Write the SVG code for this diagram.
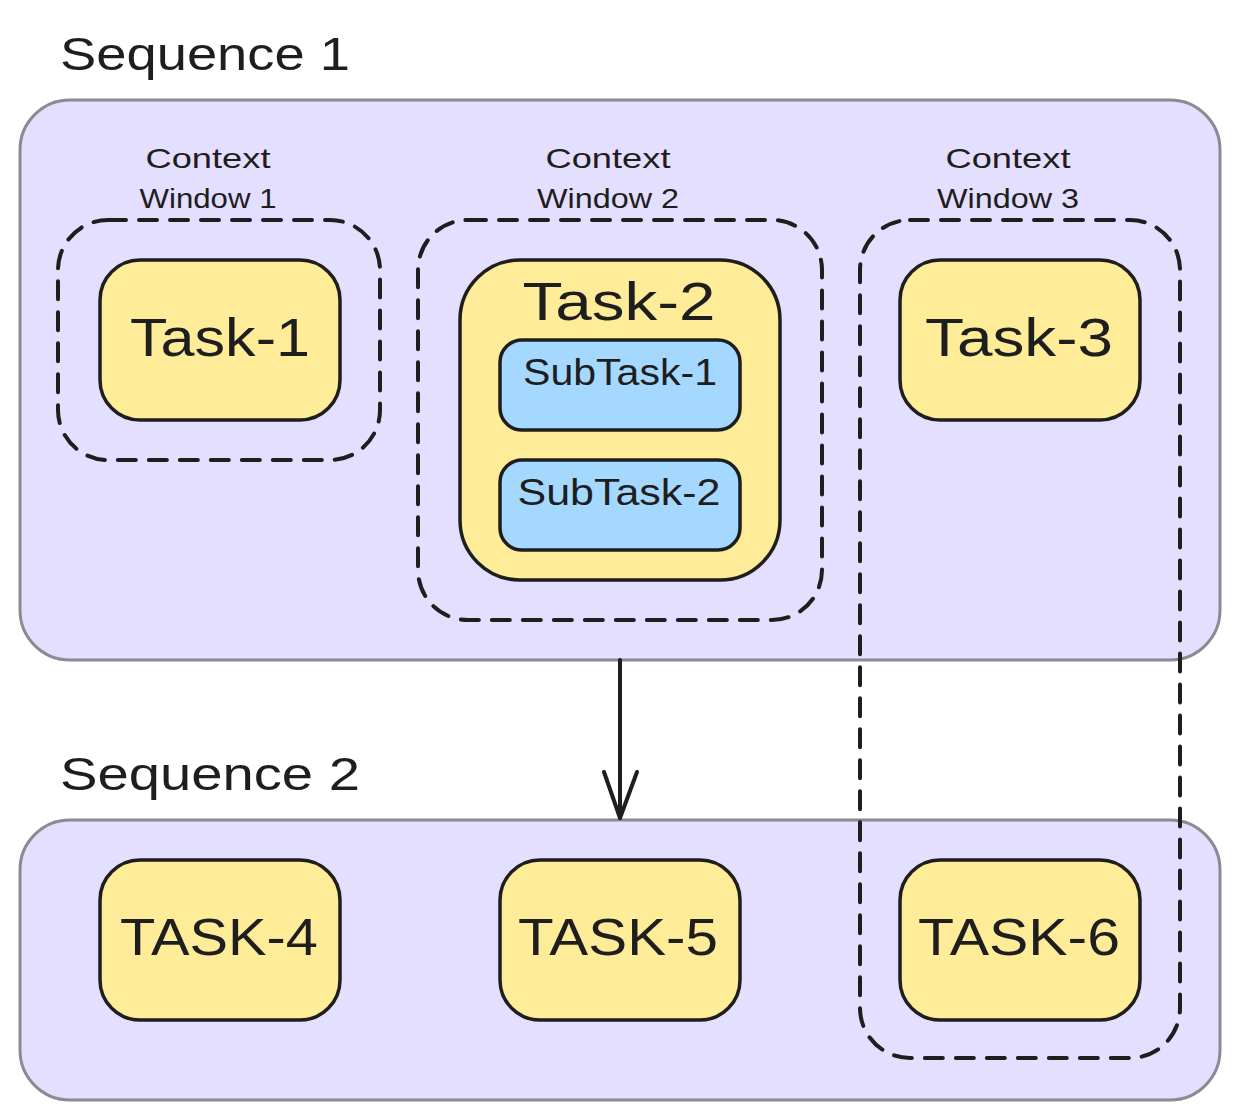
<svg xmlns="http://www.w3.org/2000/svg" width="1240" height="1120" viewBox="0 0 1240 1120">
<style>
.seq{fill:#e5dfff;stroke:#8a8a93;stroke-width:3}
.win{fill:none;stroke:#1e1e1e;stroke-width:4;stroke-dasharray:18 13;stroke-linecap:round}
.task{fill:#ffec99;stroke:#1e1e1e;stroke-width:3.5}
.sub{fill:#a5d8ff;stroke:#1e1e1e;stroke-width:3.5}
text{font-family:"Liberation Sans","DejaVu Sans",sans-serif;fill:#1e1e1e;text-anchor:middle}
.title{font-size:46px;text-anchor:start}
.lbl{font-size:28px}
.big{font-size:54px}
.med{font-size:36px}
.cap{font-size:52px}
.conn{fill:none;stroke:#1e1e1e;stroke-width:4;stroke-linecap:round;stroke-linejoin:round}
</style>
<rect width="1240" height="1120" fill="#ffffff"/>
<g id="seq1">
<text class="title" x="60" y="70" textLength="290" lengthAdjust="spacingAndGlyphs">Sequence 1</text>
<rect class="seq" x="20" y="100" width="1200" height="560" rx="50"/>
</g>
<g id="seq2">
<text class="title" x="60" y="790" textLength="300" lengthAdjust="spacingAndGlyphs">Sequence 2</text>
<rect class="seq" x="20" y="820" width="1200" height="280" rx="50"/>
</g>
<g id="cw1">
<text class="lbl" x="208" y="168" textLength="125" lengthAdjust="spacingAndGlyphs">Context</text>
<text class="lbl" x="208" y="208" textLength="137" lengthAdjust="spacingAndGlyphs">Window 1</text>
<rect class="win" x="58" y="220" width="322" height="240" rx="50"/>
</g>
<g id="cw2">
<text class="lbl" x="608" y="168" textLength="125" lengthAdjust="spacingAndGlyphs">Context</text>
<text class="lbl" x="608" y="208" textLength="142" lengthAdjust="spacingAndGlyphs">Window 2</text>
<rect class="win" x="418" y="220" width="404" height="400" rx="50"/>
</g>
<g id="cw3">
<text class="lbl" x="1008" y="168" textLength="125" lengthAdjust="spacingAndGlyphs">Context</text>
<text class="lbl" x="1008" y="208" textLength="142" lengthAdjust="spacingAndGlyphs">Window 3</text>
<rect class="win" x="860" y="220" width="320" height="838" rx="50"/>
</g>
<g id="task1">
<rect class="task" x="100" y="260" width="240" height="160" rx="40"/>
<text class="big" x="220" y="356" textLength="180" lengthAdjust="spacingAndGlyphs">Task-1</text>
</g>
<g id="task2">
<rect class="task" x="460" y="260" width="320" height="320" rx="60"/>
<text class="big" x="619" y="320" textLength="193" lengthAdjust="spacingAndGlyphs">Task-2</text>
</g>
<g id="subtask1">
<rect class="sub" x="500" y="340" width="240" height="90" rx="22"/>
<text class="med" x="620" y="385" textLength="194" lengthAdjust="spacingAndGlyphs">SubTask-1</text>
</g>
<g id="subtask2">
<rect class="sub" x="500" y="460" width="240" height="90" rx="22"/>
<text class="med" x="619" y="505" textLength="203" lengthAdjust="spacingAndGlyphs">SubTask-2</text>
</g>
<g id="task3">
<rect class="task" x="900" y="260" width="240" height="160" rx="40"/>
<text class="big" x="1019" y="356" textLength="188" lengthAdjust="spacingAndGlyphs">Task-3</text>
</g>
<g id="task4">
<rect class="task" x="100" y="860" width="240" height="160" rx="40"/>
<text class="cap" x="219" y="955" textLength="198" lengthAdjust="spacingAndGlyphs">TASK-4</text>
</g>
<g id="task5">
<rect class="task" x="500" y="860" width="240" height="160" rx="40"/>
<text class="cap" x="618" y="955" textLength="200" lengthAdjust="spacingAndGlyphs">TASK-5</text>
</g>
<g id="task6">
<rect class="task" x="900" y="860" width="240" height="160" rx="40"/>
<text class="cap" x="1019" y="955" textLength="202" lengthAdjust="spacingAndGlyphs">TASK-6</text>
</g>
<g id="connectors">
<path class="conn" d="M620 660 L620 818"/>
<path class="conn" d="M604 772 L620 818 L637 772"/>
</g>
</svg>
